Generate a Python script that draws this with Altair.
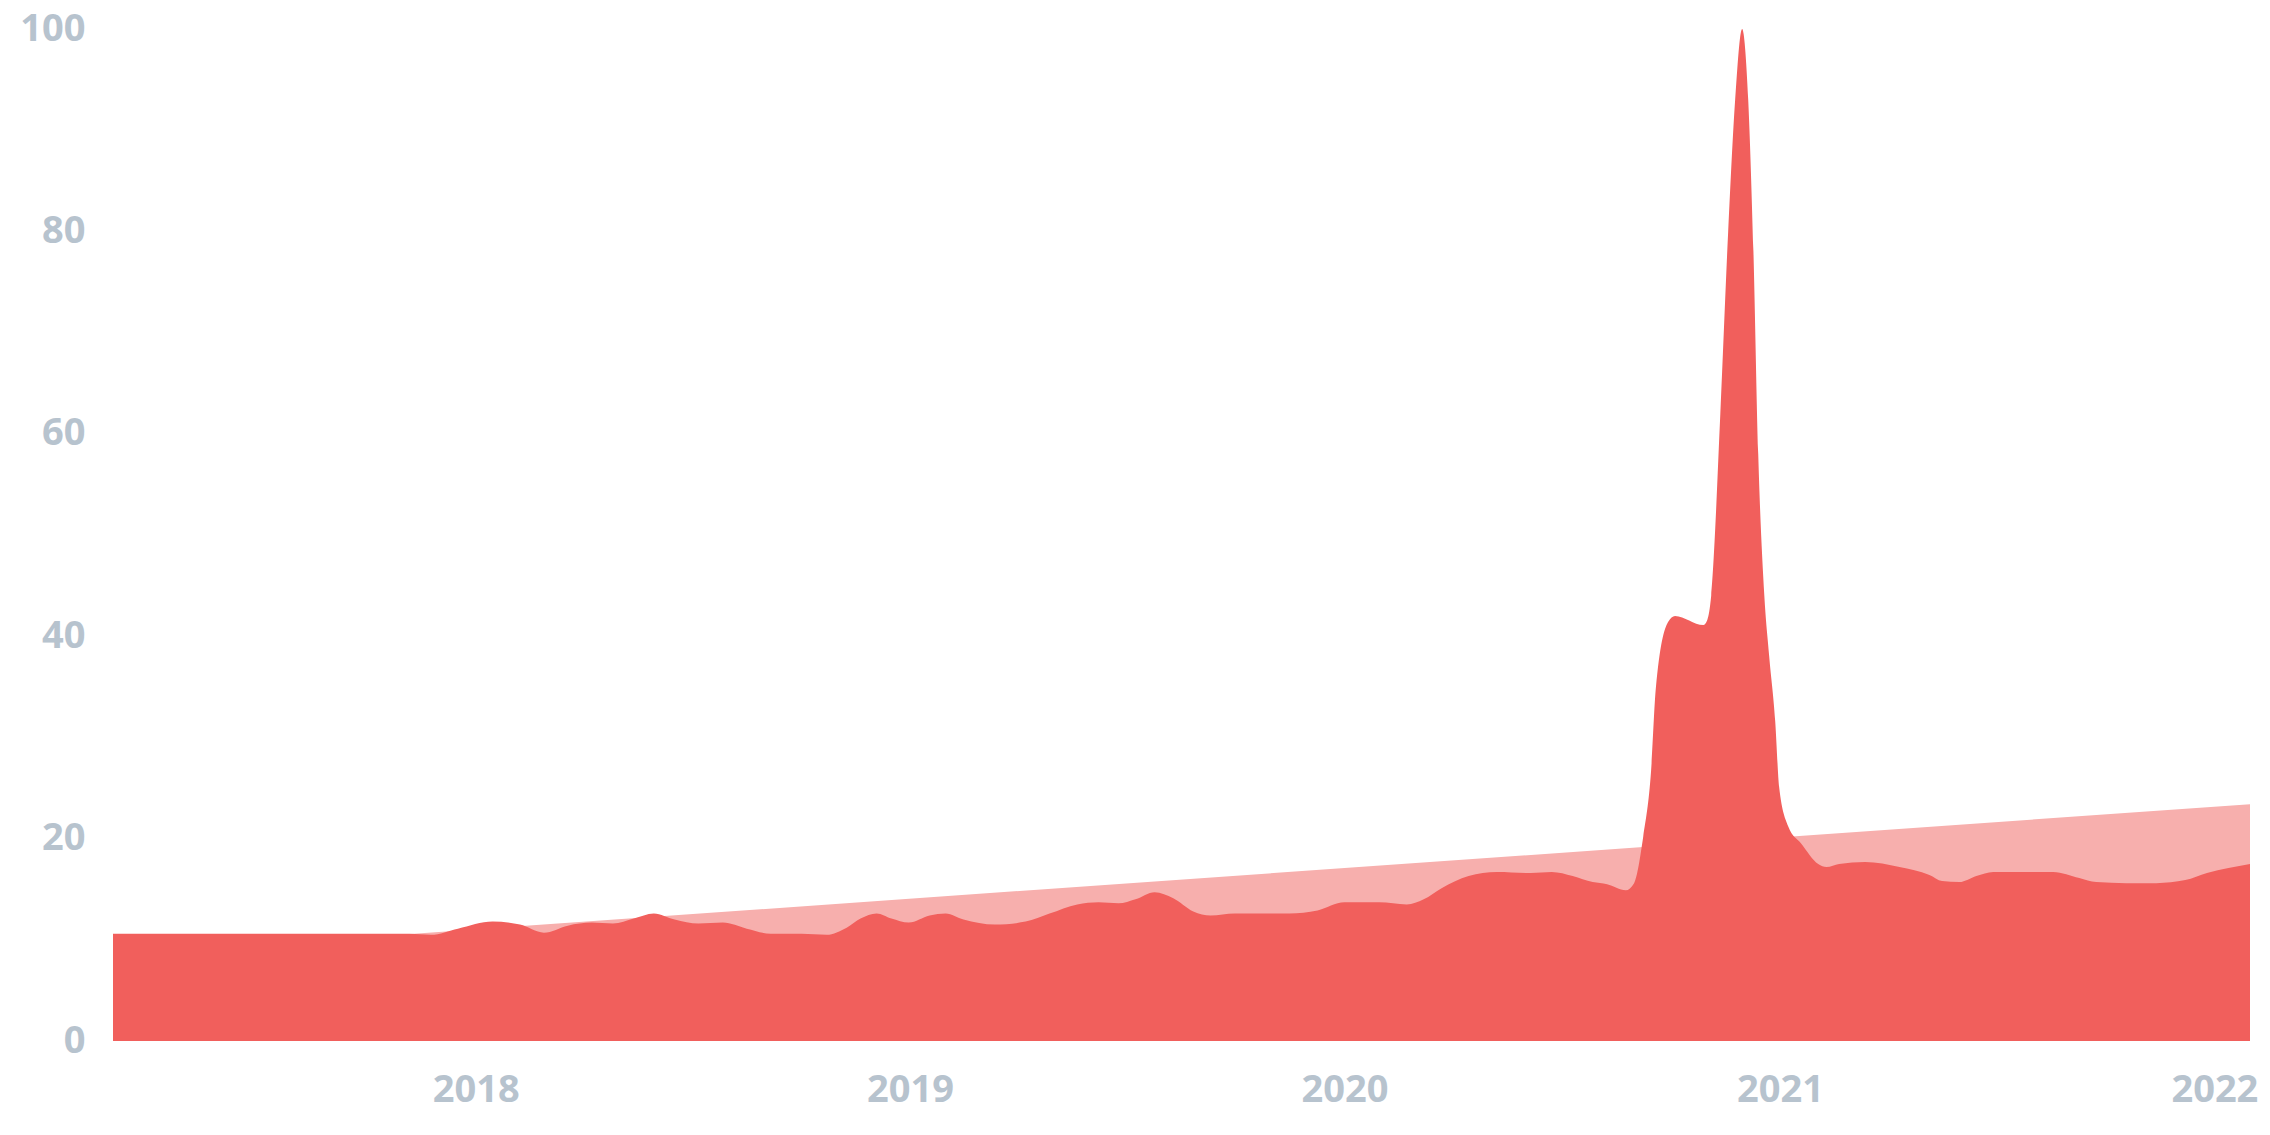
import altair as alt
import pandas as pd

act_years = [2017.165, 2017.848, 2017.897, 2017.959, 2018.039, 2018.102, 2018.157, 2018.212,
             2018.267, 2018.316, 2018.364, 2018.410, 2018.458, 2018.513, 2018.569, 2018.624,
             2018.679, 2018.750, 2018.808, 2018.854, 2018.886, 2018.923, 2018.957, 2018.997,
             2019.045, 2019.082, 2019.123, 2019.195, 2019.266, 2019.321, 2019.385, 2019.434,
             2019.480, 2019.519, 2019.563, 2019.606, 2019.652, 2019.692, 2019.747, 2019.873,
             2019.938, 2020.000, 2020.080, 2020.143, 2020.182, 2020.223, 2020.285, 2020.350,
             2020.428, 2020.476, 2020.524, 2020.570, 2020.603, 2020.646, 2020.665, 2020.686,
             2020.704, 2020.715, 2020.743, 2020.759, 2020.824, 2020.833, 2020.842, 2020.863,
             2020.881, 2020.897, 2020.913, 2020.927, 2020.939, 2020.950, 2020.964, 2020.975,
             2020.989, 2020.998, 2021.019, 2021.049,
             2021.088, 2021.107, 2021.136, 2021.196, 2021.275, 2021.344, 2021.373, 2021.413,
             2021.452, 2021.491, 2021.569, 2021.629, 2021.689, 2021.728, 2021.797, 2021.866,
             2021.933, 2021.983, 2022.082]
act_values = [10.6, 10.6, 10.5, 11.1, 11.8, 11.5, 10.7, 11.4,
              11.7, 11.6, 12.1, 12.6, 12.0, 11.6, 11.7, 11.1,
              10.6, 10.6, 10.5, 11.2, 12.1, 12.6, 12.1, 11.7,
              12.4, 12.6, 12.0, 11.5, 11.8, 12.6, 13.5, 13.7,
              13.6, 14.0, 14.7, 14.1, 12.8, 12.4, 12.6, 12.6,
              12.9, 13.7, 13.7, 13.5, 14.0, 15.1, 16.3, 16.7,
              16.6, 16.7, 16.3, 15.7, 15.5, 14.9, 15.6, 20.2,
              26.7, 34.9, 41.4, 42.0, 41.1, 41.6, 44.0, 62.0,
              80.0, 93.0, 100.0, 93.0, 78.0, 58.0, 44.0, 38.1,
              31.6, 25.1, 21.2, 19.5,
              17.5, 17.2, 17.5, 17.7, 17.2, 16.4, 15.8, 15.7,
              16.3, 16.7, 16.7, 16.7, 16.1, 15.7, 15.6, 15.6,
              15.9, 16.6, 17.5]

# Trend line (decimal year, value)
trend_years = [2017.165, 2022.082]
trend_values = [8.5, 23.4]

x_ticks = ["2018", "2019", "2020", "2021", "2022"]
y_ticks = [0, 20, 40, 60, 80, 100]


def to_date(y):
    base = pd.Timestamp(year=int(y), month=1, day=1)
    nxt = pd.Timestamp(year=int(y) + 1, month=1, day=1)
    return (base + (nxt - base) * (y - int(y))).strftime("%Y-%m-%dT%H:%M:%S")


act = pd.DataFrame({"date": [to_date(y) for y in act_years], "value": act_values})
trend = pd.DataFrame({"date": [to_date(y) for y in trend_years], "value": trend_values})

x_domain = [to_date(act_years[0]), to_date(act_years[-1])]

FONT = "Open Sans"
LABEL = "#B7C3CE"

x_enc = alt.X(
    "date:T",
    scale=alt.Scale(domain=x_domain),
    axis=alt.Axis(
        values=[f"{t}-01-01T00:00:00" for t in x_ticks],
        format="%Y",
        title=None,
        grid=False,
        domain=False,
        ticks=False,
        labelFont=FONT,
        labelFontSize=38,
        labelFontWeight="bold",
        labelColor=LABEL,
        labelPadding=30,
        labelFlush=False,
        labelOverlap=False,
    ),
)
y_enc = alt.Y(
    "value:Q",
    scale=alt.Scale(domain=[0, 100], nice=False, zero=True),
    axis=alt.Axis(
        values=y_ticks,
        title=None,
        grid=False,
        domain=False,
        ticks=False,
        labelFont=FONT,
        labelFontSize=38,
        labelFontWeight="bold",
        labelColor=LABEL,
        labelPadding=28,
        labelFlush=False,
    ),
)

trend_area = alt.Chart(trend).mark_area(color="#F7AFAD", opacity=1, interpolate="linear").encode(
    x=x_enc, y=y_enc
)
act_area = alt.Chart(act).mark_area(color="#F15F5C", opacity=1, interpolate="monotone").encode(
    x=x_enc, y=y_enc
)

chart = (
    alt.layer(trend_area, act_area)
    .properties(
        width=2137,
        height=1012,
        autosize=alt.AutoSizeParams(type="none"),
        padding={"left": 105, "top": 21, "right": 12, "bottom": 80},
    )
    .configure_view(stroke=None)
)

chart.save("out.html", embed_options={"renderer": "svg", "actions": False})
